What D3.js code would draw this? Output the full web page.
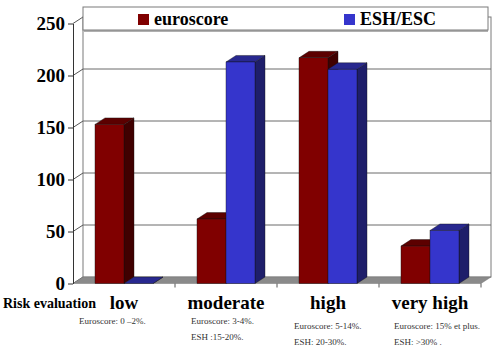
<!DOCTYPE html>
<html>
<head>
<meta charset="utf-8">
<script src="https://cdn.jsdelivr.net/npm/d3@7"></script>
<style>
  body { margin: 0; background: #fff; }
</style>
</head>
<body>
<script>
// data
var categories = ["low", "moderate", "high", "very high"];
var seriesNames = ["euroscore", "ESH/ESC"];
var euroscore = [153, 62, 217, 36];
var eshEsc = [0, 213, 206, 51];
var yTicks = [0, 50, 100, 150, 200, 250];
var notes = [
  ["Euroscore: 0 \u20132%."],
  ["Euroscore: 3-4%.", "ESH :15-20%."],
  ["Euroscore: 5-14%.", "ESH: 20-30%."],
  ["Euroscore: 15% et plus.", "ESH: >30% ."]
];

// layout
var W = 500, H = 352,
    depth = {dx: 10, dy: 6.5},
    wall = {left: 83, right: 491, top: 17, bottom: 277},
    barW = 29, barOffset = 22,
    noteDx = [6, 16, 17, 15], noteY = [324, 324, 329, 329],
    serif = "Liberation Serif";

var colors = {
  euroscore: {front: "#800000", side: "#400000", top: "#5c0000"},
  esh: {front: "#3535cc", side: "#1e1e6a", top: "#28288f"}
};

var svg = d3.select("body").append("svg")
    .attr("width", W)
    .attr("height", H)
    .attr("font-family", serif);

var yBack = d3.scaleLinear().domain([0, 250]).range([wall.bottom, wall.top]),
    yFront = d3.scaleLinear().domain([0, 250]).range([wall.bottom + depth.dy, wall.top + depth.dy]),
    x = d3.scaleBand().domain(categories).range([wall.left - depth.dx, wall.right - depth.dx]);

// back wall
svg.append("rect")
    .attr("x", wall.left).attr("y", wall.top)
    .attr("width", wall.right - wall.left).attr("height", wall.bottom - wall.top)
    .attr("fill", "#fff").attr("stroke", "#7a7a7a");

// gridlines on the wall + diagonals across the thin side wall
svg.append("g").selectAll("line")
    .data(yTicks.filter(d => d > 0 && d < 250))
    .enter().append("line")
    .attr("x1", wall.left).attr("x2", wall.right)
    .attr("y1", d => yBack(d)).attr("y2", d => yBack(d))
    .attr("stroke", "#6a6a6a");
svg.append("g").selectAll("line")
    .data(yTicks)
    .enter().append("line")
    .attr("x1", wall.left - depth.dx).attr("x2", wall.left)
    .attr("y1", d => yFront(d)).attr("y2", d => yBack(d))
    .attr("stroke", "#555");

// floor
var f0 = yFront(0), b0 = yBack(0);
svg.append("path")
    .attr("d", `M${wall.left - depth.dx},${f0}L${wall.right - depth.dx},${f0}L${wall.right},${b0}L${wall.left},${b0}Z`)
    .attr("fill", "#8a8a8a").attr("stroke", "#777").attr("stroke-width", 0.5);

// front y axis
var gy = svg.append("g")
    .attr("transform", `translate(${wall.left - depth.dx},0)`)
    .call(d3.axisLeft(yFront).tickValues(yTicks).tickSize(5).tickSizeOuter(0).tickPadding(3));
gy.attr("font-family", serif);
gy.select(".domain").attr("stroke", "#333");
gy.selectAll(".tick line").attr("stroke", "#333");
gy.selectAll(".tick text")
    .attr("font-family", serif)
    .attr("font-size", 19).attr("font-weight", "bold").attr("fill", "#000");

// category separators under the floor
svg.append("g").selectAll("line")
    .data(categories)
    .enter().append("line")
    .attr("x1", d => x(d) + x.step()).attr("x2", d => x(d) + x.step())
    .attr("y1", f0).attr("y2", f0 + 4)
    .attr("stroke", "#555");

// 3d bars
function bar(g, x0, v, c) {
  var yt = yFront(v), yb = f0;
  // side
  g.append("path")
      .attr("d", `M${x0 + barW},${yt}L${x0 + barW + depth.dx},${yt - depth.dy}L${x0 + barW + depth.dx},${yb - depth.dy}L${x0 + barW},${yb}Z`)
      .attr("fill", c.side).attr("stroke", "#111").attr("stroke-width", 0.4);
  // top
  g.append("path")
      .attr("d", `M${x0},${yt}L${x0 + depth.dx},${yt - depth.dy}L${x0 + barW + depth.dx},${yt - depth.dy}L${x0 + barW},${yt}Z`)
      .attr("fill", c.top).attr("stroke", "#111").attr("stroke-width", 0.4);
  // front
  if (v > 0) {
    g.append("rect")
        .attr("x", x0).attr("y", yt)
        .attr("width", barW).attr("height", yb - yt)
        .attr("fill", c.front).attr("stroke", "#111").attr("stroke-width", 0.4);
  }
}

var bars = svg.append("g");
categories.forEach(function(cat, i) {
  var x0 = x(cat) + barOffset;
  bar(bars, x0, euroscore[i], colors.euroscore);
  bar(bars, x0 + barW, eshEsc[i], colors.esh);
});

// legend
var legend = svg.append("g");
legend.append("line")
    .attr("x1", 84).attr("x2", 488).attr("y1", 31).attr("y2", 31)
    .attr("stroke", "#b0b0b0").attr("stroke-width", 2);
legend.append("rect")
    .attr("x", 83).attr("y", 7).attr("width", 405).attr("height", 23)
    .attr("fill", "#fff").attr("stroke", "#7a7a7a");
var legendX = [138, 344];
seriesNames.forEach(function(name, i) {
  legend.append("rect")
      .attr("x", legendX[i]).attr("y", 14)
      .attr("width", 11).attr("height", 11)
      .attr("fill", i === 0 ? colors.euroscore.front : colors.esh.front);
  legend.append("text")
      .attr("x", legendX[i] + 16).attr("y", 25)
      .attr("font-family", serif)
      .attr("font-size", 18).attr("font-weight", "bold")
      .text(name);
});

// bottom labels
svg.append("text")
    .attr("x", 3).attr("y", 308)
    .attr("font-family", serif)
    .attr("font-size", 14).attr("font-weight", "bold")
    .text("Risk evaluation");

svg.append("g").selectAll("text")
    .data(categories)
    .enter().append("text")
    .attr("x", d => x(d) + x.bandwidth() / 2)
    .attr("y", 309)
    .attr("text-anchor", "middle")
    .attr("font-family", serif)
    .attr("font-size", 19).attr("font-weight", "bold")
    .text(d => d);

categories.forEach(function(cat, i) {
  notes[i].forEach(function(line, j) {
    svg.append("text")
        .attr("x", x(cat) + noteDx[i])
        .attr("y", noteY[i] + j * 16)
        .attr("font-family", serif)
        .attr("font-size", 9).attr("fill", "#333")
        .text(line);
  });
});
</script>
</body>
</html>
